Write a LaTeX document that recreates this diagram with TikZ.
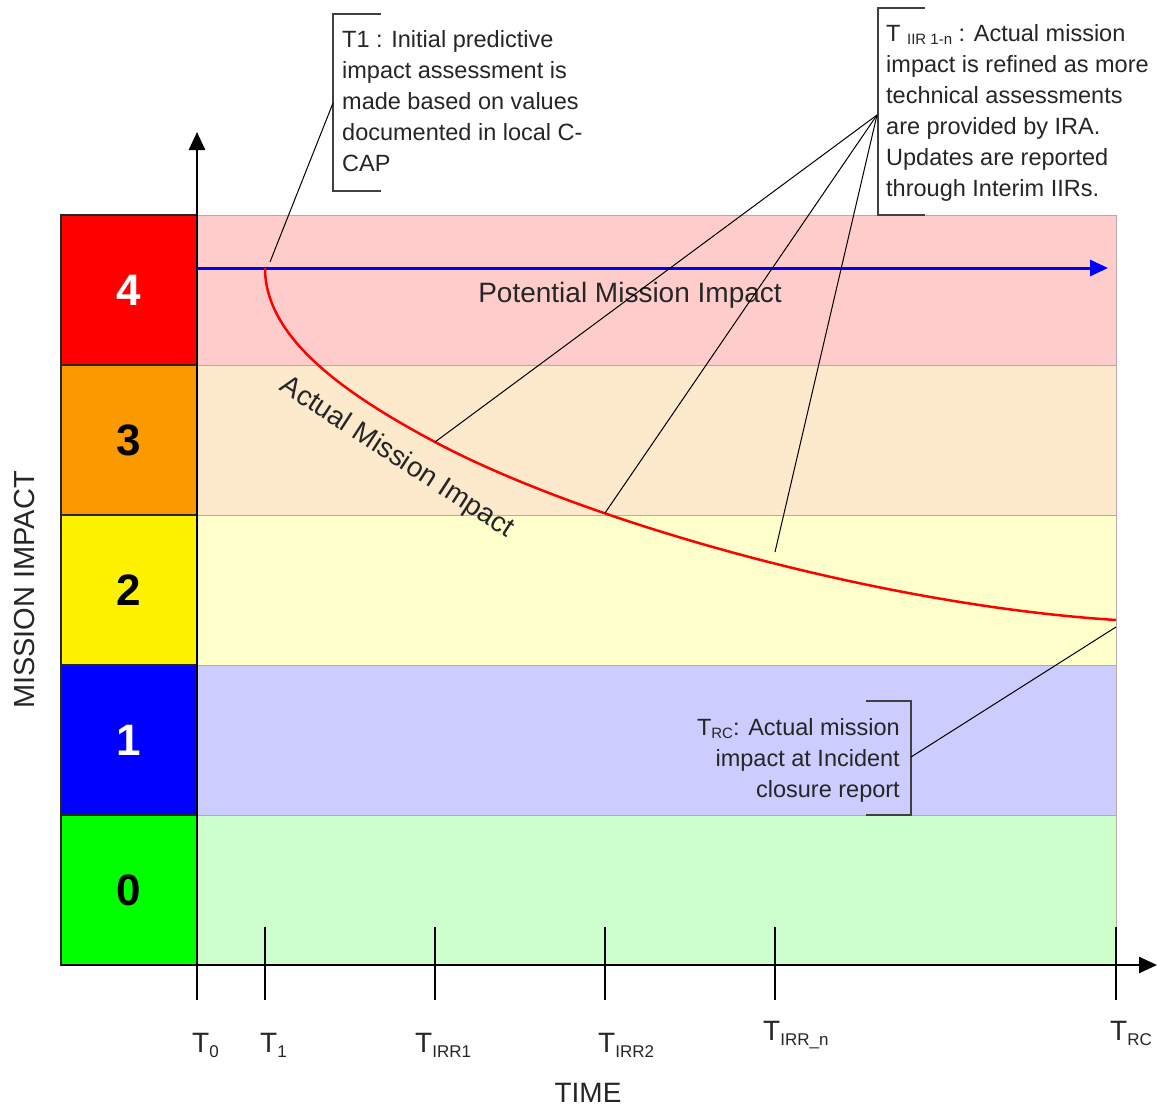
\documentclass[tikz,border=0pt]{standalone}
\usepackage{fontspec}
\setmainfont{Liberation Sans}
\usetikzlibrary{arrows.meta}
\definecolor{bandA}{HTML}{FFCCCC}
\definecolor{bandB}{HTML}{FDE9CC}
\definecolor{bandC}{HTML}{FFFFCC}
\definecolor{bandD}{HTML}{CCCCFF}
\definecolor{bandE}{HTML}{CCFFCC}
\definecolor{lvlorange}{HTML}{FB9A00}
\definecolor{lvlgreen}{HTML}{00FF00}
\definecolor{lvlblue}{HTML}{0000FF}
\definecolor{sepgray}{HTML}{B8A8A8}
\newcommand{\mysub}[1]{\raisebox{-5pt}{\fontsize{17}{17}\selectfont #1}}
\newcommand{\mysubsmall}[1]{\raisebox{-3pt}{\fontsize{15}{15}\selectfont #1}}
\begin{document}
\begin{tikzpicture}[x=1pt,y=-1pt,
  lvlbox/.style={draw=black!85, line width=1.5pt, minimum width=136pt, minimum height=150pt, inner sep=0pt, font=\fontsize{44}{44}\selectfont\bfseries},
  bandbox/.style={draw=sepgray, line width=1pt, minimum width=919pt, minimum height=150pt, inner sep=0pt},
  callout/.style={font=\fontsize{23.5}{31}\selectfont, inner sep=0pt, text=black!85},
  bracket/.style={draw=black!75, line width=2pt},
  leader/.style={draw=black, line width=1pt},
  axisline/.style={draw=black, line width=2.5pt},
  ticklab/.style={font=\fontsize{28}{28}\selectfont, anchor=base west, inner sep=0pt, text=black!85},
  bigtip/.style={-{Triangle[length=18pt,width=16pt]}}
]
\useasboundingbox (0,0) rectangle (1158,1109);
\fill[white] (0,0) rectangle (1158,1109);

% bands
\node[bandbox, fill=bandA] (B4) at (656.5,290) {};
\node[bandbox, fill=bandB] (B3) at (656.5,440) {};
\node[bandbox, fill=bandC] (B2) at (656.5,590) {};
\node[bandbox, fill=bandD] (B1) at (656.5,740) {};
\node[bandbox, fill=bandE] (B0) at (656.5,890) {};

% level boxes
\node[lvlbox, fill=red, text=white] (L4) at (129,290) {4};
\node[lvlbox, fill=lvlorange, text=black] (L3) at (129,440) {3};
\node[lvlbox, fill=yellow, text=black] (L2) at (129,590) {2};
\node[lvlbox, fill=lvlblue, text=white] (L1) at (129,740) {1};
\node[lvlbox, fill=lvlgreen, text=black] (L0) at (129,890) {0};

% axes
\coordinate (yb) at (197,1000);
\coordinate (yt) at (197,132);
\coordinate (xl) at (61,965);
\coordinate (xr) at (1157,965);
\draw[axisline, bigtip] (yb) -- (yt);
\draw[axisline, bigtip] (xl) -- (xr);

% ticks
\foreach \n/\x in {t1/265, tA/435, tB/605, tC/775, tR/1116}{
  \coordinate (\n top) at (\x,927);
  \coordinate (\n bot) at (\x,1000);
  \draw[axisline] (\n top) -- (\n bot);
}

% tick labels
\node[ticklab] (lT0) at (192,1052) {T\mysub{0}};
\node[ticklab] (lT1) at (260,1052) {T\mysub{1}};
\node[ticklab] (lTA) at (415,1052) {T\mysub{IRR1}};
\node[ticklab] (lTB) at (598,1052) {T\mysub{IRR2}};
\node[ticklab] (lTC) at (763,1040) {T\mysub{IRR\_n}};
\node[ticklab] (lTR) at (1110,1040) {T\mysub{RC}};

% axis titles
\node[font=\fontsize{28}{28}\selectfont, text=black!85] (time) at (588,1093) {TIME};
\node[font=\fontsize{29}{29}\selectfont, text=black!85, rotate=90] (mi) at (25,590) {MISSION IMPACT};

% potential mission impact
\coordinate (pstart) at (197,268);
\coordinate (pend) at (1108,268);
\draw[draw=blue, line width=3pt, bigtip] (pstart) -- (pend);
\node[font=\fontsize{28}{28}\selectfont, text=black!85] (pmi) at (630,295) {Potential Mission Impact};

% actual mission impact curve
\coordinate (c0) at (265,268);
\coordinate (c1) at (435,442);
\coordinate (c2) at (605,513);
\coordinate (c3) at (775,552);
\coordinate (cend) at (1116,620);
\draw[draw=red, line width=2.5pt] (c0) .. controls (265,338) and (345,394) .. (c1)
   .. controls (585,522) and (880,605) .. (cend);
\node[font=\fontsize{28}{28}\selectfont, text=black!85, rotate=-33] (ami) at (397,458) {Actual Mission Impact};

% T1 callout
\draw[bracket] (381,14) -- (333,14) -- (333,191) -- (381,191);
\node[callout, anchor=north west, align=left] (t1note) at (342,30)
  {T1 : Initial predictive\\impact assessment is\\made based on values\\documented in local C-\\CAP};
\coordinate (t1pt) at (333,103);
\coordinate (t1end) at (270,262);
\draw[leader] (t1pt) -- (t1end);

% TIIR callout
\draw[bracket] (925,8) -- (878,8) -- (878,215) -- (925,215);
\node[callout, anchor=north west, align=left] (tiirnote) at (886,24)
  {T \mysubsmall{IIR 1-n} : Actual mission\\impact is refined as more\\technical assessments\\are provided by IRA.\\Updates are reported\\through Interim IIRs.};
\coordinate (tiirpt) at (877,115);
\draw[leader] (tiirpt) -- (c1);
\draw[leader] (tiirpt) -- (c2);
\draw[leader] (tiirpt) -- (c3);

% TRC callout
\draw[bracket] (866,701) -- (911,701) -- (911,815) -- (866,815);
\node[callout, anchor=north east, align=right] (trcnote) at (900,718)
  {T\mysubsmall{RC}: Actual mission\\impact at Incident\\closure report};
\coordinate (trcpt) at (911,757);
\coordinate (trcend) at (1116,627);
\draw[leader] (trcpt) -- (trcend);
\end{tikzpicture}
\end{document}
